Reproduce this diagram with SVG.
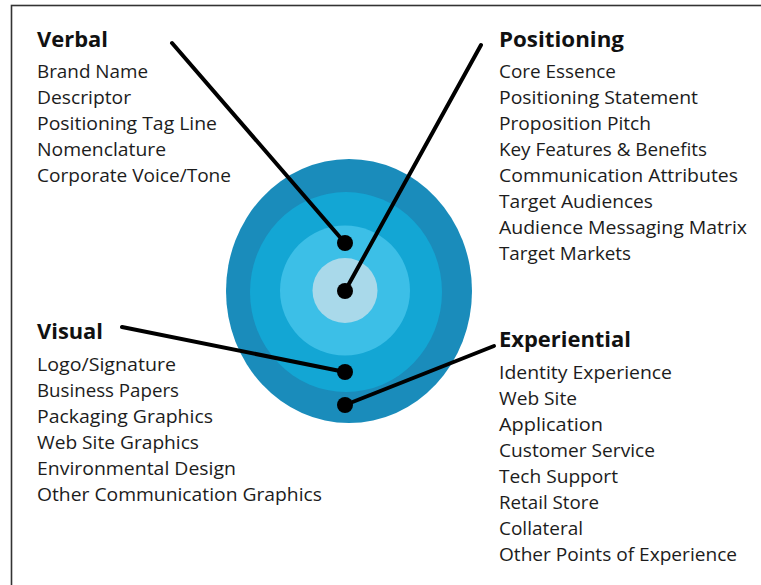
<svg xmlns="http://www.w3.org/2000/svg" width="761" height="585" viewBox="0 0 761 585">
  <style>
    .head { font-family: "Open Sans", "Noto Sans", sans-serif; font-weight: 700; font-size: 21px; fill: #111; }
    .item { font-family: "Open Sans", "Noto Sans", sans-serif; font-size: 18.5px; fill: #1c1c1c; }
    .link { stroke: #000; stroke-width: 4; stroke-linecap: round; fill: none; }
    .dot { fill: #000; }
  </style>
  <rect x="0" y="0" width="761" height="585" fill="#fff"/>
  <!-- frame: only left and top edges fall inside the canvas -->
  <rect x="11.5" y="5.5" width="800" height="640" fill="none" stroke="#333" stroke-width="1.6"/>

  <!-- concentric brand rings -->
  <g id="rings">
    <ellipse cx="349" cy="291" rx="123" ry="132" fill="#1a8cbb"/>
    <ellipse cx="346" cy="292" rx="96" ry="100" fill="#13a6d4"/>
    <ellipse cx="345" cy="290.5" rx="65" ry="65" fill="#3cbfe7"/>
    <circle cx="345" cy="290.5" r="32.5" fill="#a9d9ea"/>
  </g>

  <!-- leader lines with end dots -->
  <g id="connectors">
    <line class="link" x1="172" y1="43" x2="345" y2="243"/>
    <line class="link" x1="481" y1="45" x2="345" y2="291"/>
    <line class="link" x1="122" y1="327" x2="345" y2="372"/>
    <line class="link" x1="494" y1="346" x2="345" y2="405"/>
    <circle class="dot" cx="345" cy="243" r="8"/>
    <circle class="dot" cx="345" cy="291" r="8"/>
    <circle class="dot" cx="345" cy="372" r="8"/>
    <circle class="dot" cx="345" cy="405" r="8"/>
  </g>

  <g id="verbal">
    <text class="head" x="37" y="47" textLength="71" lengthAdjust="spacingAndGlyphs">Verbal</text>
    <text class="item" x="37" y="78" textLength="111" lengthAdjust="spacingAndGlyphs">Brand Name</text>
    <text class="item" x="37" y="104" textLength="94" lengthAdjust="spacingAndGlyphs">Descriptor</text>
    <text class="item" x="37" y="130" textLength="180" lengthAdjust="spacingAndGlyphs">Positioning Tag Line</text>
    <text class="item" x="37" y="156" textLength="129" lengthAdjust="spacingAndGlyphs">Nomenclature</text>
    <text class="item" x="37" y="182" textLength="194" lengthAdjust="spacingAndGlyphs">Corporate Voice/Tone</text>
  </g>

  <g id="positioning">
    <text class="head" x="499" y="47" textLength="125" lengthAdjust="spacingAndGlyphs">Positioning</text>
    <text class="item" x="499" y="78" textLength="117" lengthAdjust="spacingAndGlyphs">Core Essence</text>
    <text class="item" x="499" y="104" textLength="199" lengthAdjust="spacingAndGlyphs">Positioning Statement</text>
    <text class="item" x="499" y="130" textLength="152" lengthAdjust="spacingAndGlyphs">Proposition Pitch</text>
    <text class="item" x="499" y="156" textLength="208" lengthAdjust="spacingAndGlyphs">Key Features &amp; Benefits</text>
    <text class="item" x="499" y="182" textLength="239" lengthAdjust="spacingAndGlyphs">Communication Attributes</text>
    <text class="item" x="499" y="208" textLength="154" lengthAdjust="spacingAndGlyphs">Target Audiences</text>
    <text class="item" x="499" y="234" textLength="248" lengthAdjust="spacingAndGlyphs">Audience Messaging Matrix</text>
    <text class="item" x="499" y="260" textLength="132" lengthAdjust="spacingAndGlyphs">Target Markets</text>
  </g>

  <g id="visual">
    <text class="head" x="37" y="339" textLength="66" lengthAdjust="spacingAndGlyphs">Visual</text>
    <text class="item" x="37" y="370.5" textLength="139" lengthAdjust="spacingAndGlyphs">Logo/Signature</text>
    <text class="item" x="37" y="396.5" textLength="142" lengthAdjust="spacingAndGlyphs">Business Papers</text>
    <text class="item" x="37" y="422.5" textLength="176" lengthAdjust="spacingAndGlyphs">Packaging Graphics</text>
    <text class="item" x="37" y="448.5" textLength="162" lengthAdjust="spacingAndGlyphs">Web Site Graphics</text>
    <text class="item" x="37" y="474.5" textLength="199" lengthAdjust="spacingAndGlyphs">Environmental Design</text>
    <text class="item" x="37" y="500.5" textLength="285" lengthAdjust="spacingAndGlyphs">Other Communication Graphics</text>
  </g>

  <g id="experiential">
    <text class="head" x="499" y="347" textLength="132" lengthAdjust="spacingAndGlyphs">Experiential</text>
    <text class="item" x="499" y="378.5" textLength="173" lengthAdjust="spacingAndGlyphs">Identity Experience</text>
    <text class="item" x="499" y="404.5" textLength="78" lengthAdjust="spacingAndGlyphs">Web Site</text>
    <text class="item" x="499" y="430.5" textLength="104" lengthAdjust="spacingAndGlyphs">Application</text>
    <text class="item" x="499" y="456.5" textLength="156" lengthAdjust="spacingAndGlyphs">Customer Service</text>
    <text class="item" x="499" y="482.5" textLength="119" lengthAdjust="spacingAndGlyphs">Tech Support</text>
    <text class="item" x="499" y="508.5" textLength="100" lengthAdjust="spacingAndGlyphs">Retail Store</text>
    <text class="item" x="499" y="534.5" textLength="84" lengthAdjust="spacingAndGlyphs">Collateral</text>
    <text class="item" x="499" y="560.5" textLength="238" lengthAdjust="spacingAndGlyphs">Other Points of Experience</text>
  </g>
</svg>
